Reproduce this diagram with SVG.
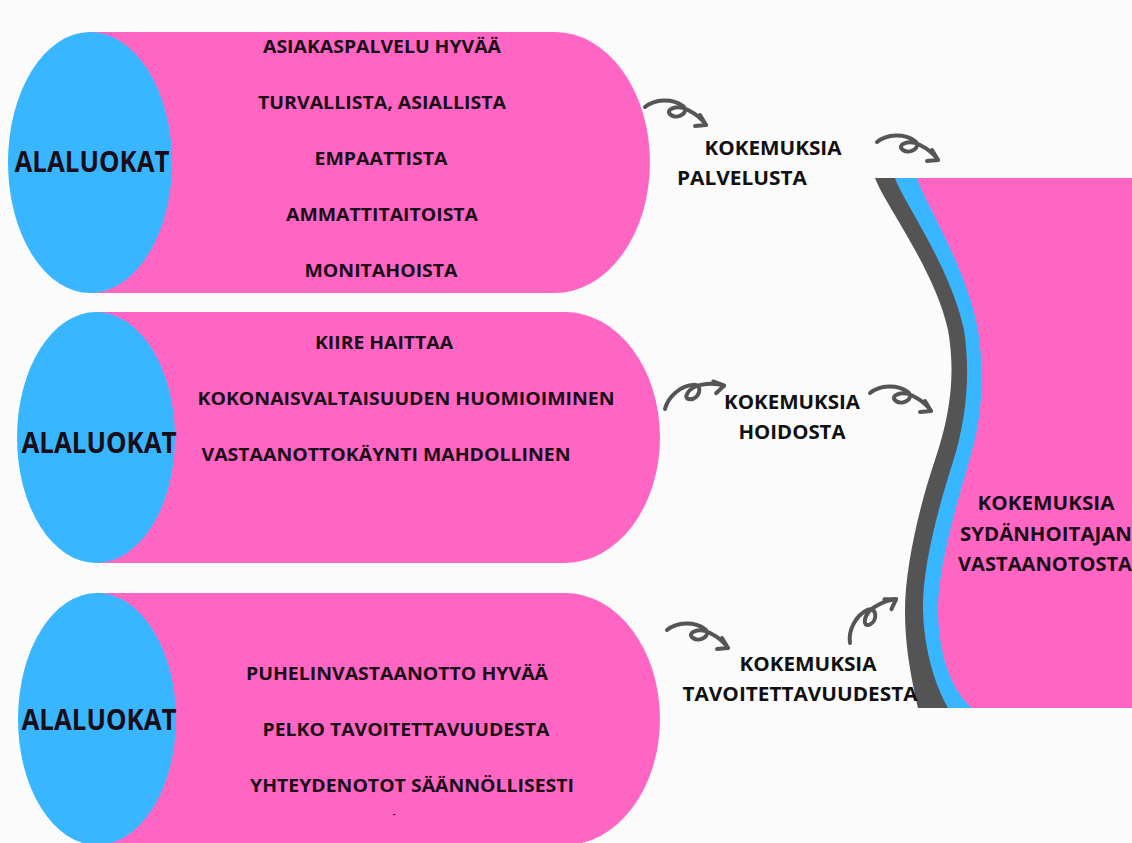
<svg xmlns="http://www.w3.org/2000/svg" xmlns:xlink="http://www.w3.org/1999/xlink" width="1132" height="843" viewBox="0 0 1132 843">
<style>
.pink{fill:#ff66c4}
.blue{fill:#38b6ff}
.dark{fill:#545454}
.t{font-family:"Open Sans","Liberation Sans",sans-serif;font-weight:700;fill:#1a0d18;text-anchor:middle}
.item{font-size:18.5px}
.cat{font-size:28px}
.lbl{font-size:19.5px;fill:#111}
.curl{fill:none;stroke:#555;stroke-width:4;stroke-linecap:round;stroke-linejoin:round}
</style>
<defs>
<g id="curlArrow">
<path class="curl" d="M 0 0 C 10 -8, 27 -9, 38 -1 C 45 5, 33 13, 26 8 C 19 3, 31 -3, 43 3 C 51 7, 57 12, 61 18"/>
<path class="curl" d="M 55 8 L 61 18 L 50 19"/>
</g>
</defs>
<rect width="1132" height="843" fill="#fbfbfb"/>

<g id="cylinder1">
<path class="pink" d="M 90 32 H 555 A 95 130.5 0 0 1 555 293 H 90 Z"/>
<ellipse class="blue" cx="90" cy="162.5" rx="82" ry="130.5"/>
<text class="t cat" x="92" y="172" textLength="155" lengthAdjust="spacingAndGlyphs">ALALUOKAT</text>
<text class="t item" x="382" y="53" textLength="238" lengthAdjust="spacingAndGlyphs">ASIAKASPALVELU HYVÄÄ</text>
<text class="t item" x="382" y="109" textLength="248" lengthAdjust="spacingAndGlyphs">TURVALLISTA, ASIALLISTA</text>
<text class="t item" x="381" y="165" textLength="133" lengthAdjust="spacingAndGlyphs">EMPAATTISTA</text>
<text class="t item" x="382" y="221" textLength="192" lengthAdjust="spacingAndGlyphs">AMMATTITAITOISTA</text>
<text class="t item" x="381" y="277" textLength="153" lengthAdjust="spacingAndGlyphs">MONITAHOISTA</text>
</g>

<g id="cylinder2">
<path class="pink" d="M 96 312 H 565 A 95 125.5 0 0 1 565 563 H 96 Z"/>
<ellipse class="blue" cx="96" cy="437.5" rx="79" ry="125.5"/>
<text class="t cat" x="99" y="453" textLength="155" lengthAdjust="spacingAndGlyphs">ALALUOKAT</text>
<text class="t item" x="384" y="349" textLength="138" lengthAdjust="spacingAndGlyphs">KIIRE HAITTAA</text>
<text class="t item" x="406" y="405" textLength="417" lengthAdjust="spacingAndGlyphs">KOKONAISVALTAISUUDEN HUOMIOIMINEN</text>
<text class="t item" x="386" y="461" textLength="369" lengthAdjust="spacingAndGlyphs">VASTAANOTTOKÄYNTI MAHDOLLINEN</text>
</g>

<g id="cylinder3">
<path class="pink" d="M 97 593 H 565 A 95 126 0 0 1 565 845 H 97 Z"/>
<ellipse class="blue" cx="97" cy="719" rx="79" ry="126"/>
<text class="t cat" x="99" y="730" textLength="155" lengthAdjust="spacingAndGlyphs">ALALUOKAT</text>
<text class="t item" x="397" y="680" textLength="302" lengthAdjust="spacingAndGlyphs">PUHELINVASTAANOTTO HYVÄÄ</text>
<text class="t item" x="406" y="736" textLength="287" lengthAdjust="spacingAndGlyphs">PELKO TAVOITETTAVUUDESTA</text>
<text class="t item" x="412" y="792" textLength="324" lengthAdjust="spacingAndGlyphs">YHTEYDENOTOT SÄÄNNÖLLISESTI</text>
<text class="t" x="394" y="817" font-size="8">-</text>
</g>

<g id="main">
<path class="dark" d="M 875 178 C 885 205, 935 270, 948 330 C 955 370, 952 410, 935 460 C 918 510, 905 570, 905 610 C 905 650, 912 680, 918 708 L 1132 708 L 1132 178 Z"/>
<path class="blue" d="M 895 178 C 902 200, 950 265, 964 330 C 970 370, 968 415, 952 465 C 937 512, 922 570, 923 610 C 924 650, 935 685, 948 708 L 1132 708 L 1132 178 Z"/>
<path class="pink" d="M 917 178 C 923 200, 966 265, 978 330 C 984 370, 984 415, 968 465 C 955 510, 938 570, 938 610 C 938 650, 950 690, 972 708 L 1132 708 L 1132 178 Z"/>
<text class="t lbl" x="1046" y="510" textLength="137" lengthAdjust="spacingAndGlyphs" style="fill:#1a0d18">KOKEMUKSIA</text>
<text class="t lbl" x="1046" y="541" textLength="172" lengthAdjust="spacingAndGlyphs" style="fill:#1a0d18">SYDÄNHOITAJAN</text>
<text class="t lbl" x="1045" y="571" textLength="174" lengthAdjust="spacingAndGlyphs" style="fill:#1a0d18">VASTAANOTOSTA</text>
</g>

<g id="theme1">
<text class="t lbl" x="773" y="155" textLength="137" lengthAdjust="spacingAndGlyphs">KOKEMUKSIA</text>
<text class="t lbl" x="742" y="185" textLength="130" lengthAdjust="spacingAndGlyphs">PALVELUSTA</text>
</g>
<g id="theme2">
<text class="t lbl" x="792" y="409" textLength="136" lengthAdjust="spacingAndGlyphs">KOKEMUKSIA</text>
<text class="t lbl" x="792" y="439" textLength="107" lengthAdjust="spacingAndGlyphs">HOIDOSTA</text>
</g>
<g id="theme3">
<text class="t lbl" x="808" y="671" textLength="137" lengthAdjust="spacingAndGlyphs">KOKEMUKSIA</text>
<text class="t lbl" x="800" y="701" textLength="235" lengthAdjust="spacingAndGlyphs">TAVOITETTAVUUDESTA</text>
</g>

<g id="connectors">
<use xlink:href="#curlArrow" href="#curlArrow" transform="translate(645,107)"/>
<use xlink:href="#curlArrow" href="#curlArrow" transform="translate(877,142)"/>
<use xlink:href="#curlArrow" href="#curlArrow" transform="translate(665,409) rotate(-38)"/>
<use xlink:href="#curlArrow" href="#curlArrow" transform="translate(870,393)"/>
<use xlink:href="#curlArrow" href="#curlArrow" transform="translate(667,630)"/>
<use xlink:href="#curlArrow" href="#curlArrow" transform="translate(850,643) rotate(-60)"/>
</g>
</svg>
